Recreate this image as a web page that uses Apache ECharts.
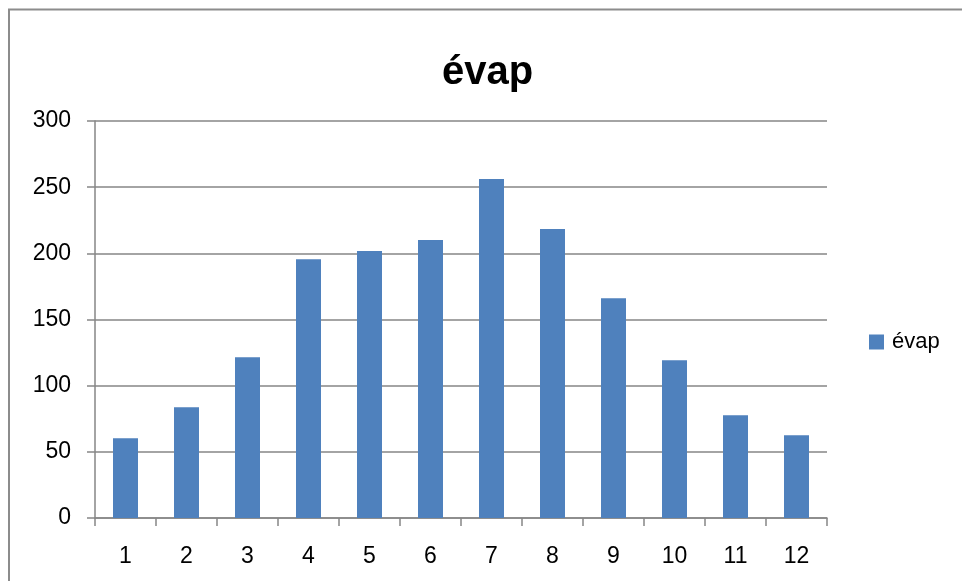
<!DOCTYPE html>
<html>
<head>
<meta charset="utf-8">
<script src="https://cdn.jsdelivr.net/npm/echarts@6/dist/echarts.min.js"></script>
<style>html,body{margin:0;padding:0;background:#fff}#c{width:962px;height:581px}</style>
</head>
<body>
<div id="c"></div>
<script>
const categories = ['1','2','3','4','5','6','7','8','9','10','11','12'];
const evap = [60.3, 83.7, 121.5, 195.6, 201.7, 210, 256.1, 218.3, 166.1, 119.3, 77.7, 62.5];
const seriesName = 'évap';
const titleText = 'évap';

const chart = echarts.init(document.getElementById('c'), null, {renderer: 'canvas'});
const font = 'Liberation Sans';
chart.setOption({
  animation: false,
  backgroundColor: '#fff',
  graphic: [{
    type: 'rect', shape: {x: 9, y: 9.5, width: 1200, height: 1200},
    style: {fill: 'none', stroke: '#8c8c8c', lineWidth: 2}, silent: true
  }],
  title: {
    text: titleText, left: 442, top: 53, padding: 0,
    textStyle: {fontFamily: font, fontWeight: 'bold', fontSize: 40, color: '#000'}
  },
  legend: {
    data: [seriesName], left: 869, top: 331, padding: 0, icon: 'rect', itemWidth: 15, itemHeight: 15, itemGap: 6,
    textStyle: {fontFamily: font, fontSize: 22, color: '#000', padding: [0,0,0,3]}
  },
  grid: {left: 95, right: 135, top: 121, bottom: 63, containLabel: false},
  xAxis: {
    type: 'category', data: categories, boundaryGap: true,
    axisLine: {lineStyle: {color: '#868686', width: 1.5}},
    axisTick: {show: true, length: 8, lineStyle: {color: '#868686', width: 1.5}},
    axisLabel: {fontFamily: font, fontSize: 23, color: '#000', margin: 27},
    splitLine: {show: false}
  },
  yAxis: {
    type: 'value', min: 0, max: 300, interval: 50,
    axisLine: {show: true, lineStyle: {color: '#868686', width: 1.5}},
    axisTick: {show: true, length: 8, lineStyle: {color: '#868686', width: 1.5}},
    axisLabel: {fontFamily: font, fontSize: 23, color: '#000', margin: 24},
    splitLine: {show: true, lineStyle: {color: '#868686', width: 1.5}}
  },
  series: [{
    name: seriesName, type: 'bar', data: evap, barWidth: 25,
    itemStyle: {color: '#4F81BD'}
  }]
});
</script>
</body>
</html>
